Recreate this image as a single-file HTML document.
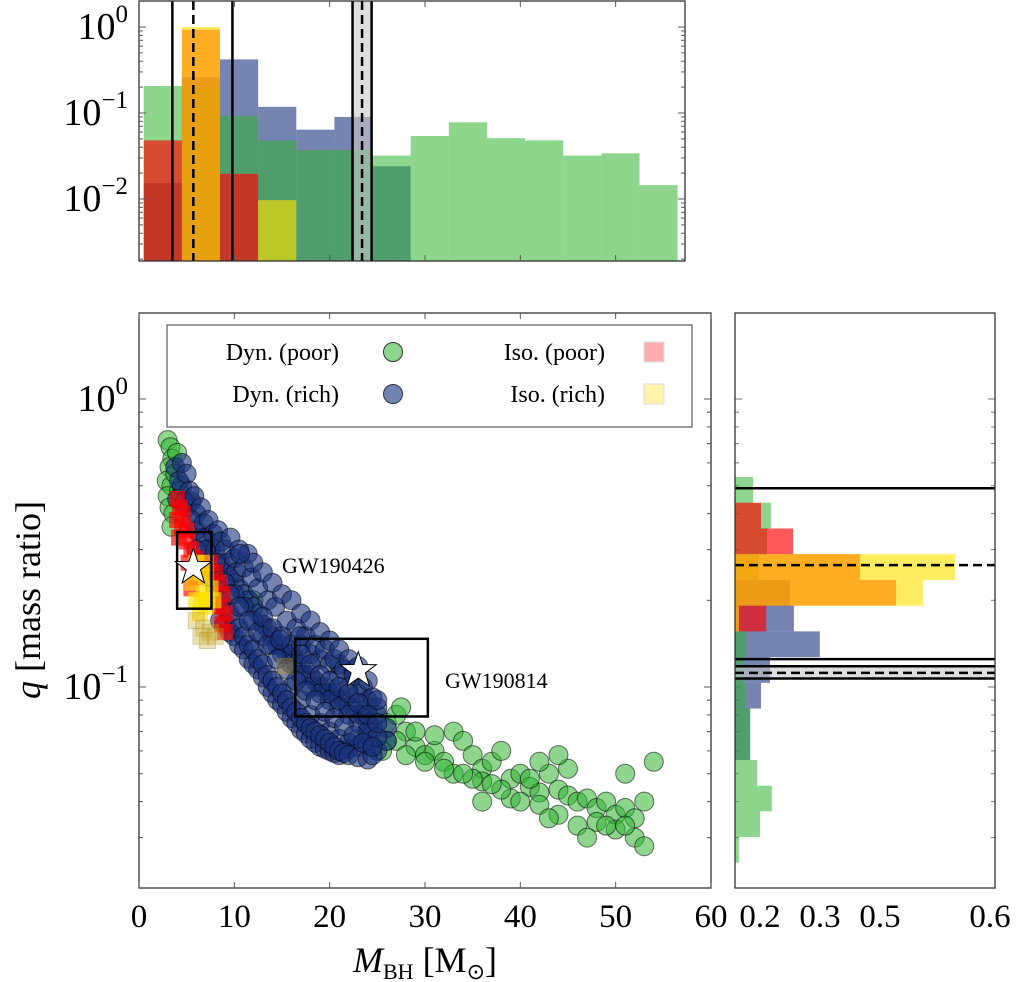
<!DOCTYPE html>
<html><head><meta charset="utf-8"><style>
html,body{margin:0;padding:0;background:#fff;}
svg{display:block;font-family:"Liberation Serif",serif;}
</style></head><body>
<svg id="chart" width="1020" height="982" viewBox="0 0 1020 982" xmlns="http://www.w3.org/2000/svg">
<defs>
<clipPath id="clipTop"><rect x="139" y="1" width="546" height="260"/></clipPath>
<clipPath id="clipMain"><rect x="139" y="313" width="572" height="575"/></clipPath>
<clipPath id="clipRight"><rect x="735" y="313" width="260" height="575"/></clipPath>
</defs>
<g id="top"></g>
<g id="main"></g>
<g id="right"></g>
</svg>
<script>
// ---------- data ----------
const topBinStart = 0.5, topBinWidth = 4.0;
const topBlue   = [0.0154,0.26,0.42,0.118,0.064,0.09,0.024,0,0,0,0,0,0,0];
const topGreen  = [0.206,0.2,0.092,0.048,0.037,0.037,0.032,0.054,0.078,0.051,0.048,0.032,0.034,0.0145];
const topRed    = [0.048,0.93,0.0196,0,0,0,0,0,0,0,0,0,0,0];
const topYellow = [0,1.0,0,0.0097,0,0,0,0,0,0,0,0,0,0];
const topVLinesSolid = [3.5,9.8,22.4,24.4];
const topVLinesDashed = [5.7,23.4];

const rightBinTopLog = -0.271, rightBinWidthLog = 0.0893;
const rightGreen  = [0.042,0.083,0.074,0.055,0,0,0.025,0.021,0.023,0.035,0.035,0.051,0.085,0.058,0.009];
const rightBlue   = [0,0,0,0,0.127,0.136,0.196,0.081,0.06,0.035,0.035,0,0,0,0];
const rightRed    = [0,0.06,0.134,0.289,0.372,0.072,0,0,0,0,0,0,0,0,0];
const rightYellow = [0,0,0,0.508,0.434,0.009,0,0,0,0,0,0,0,0,0];
const rightHLinesSolid = [0.49,0.125,0.118,0.107];
const rightHLinesDashed = [0.265,0.112];

const greenM = [3,3.3,3.5,3.2,2.9,3.4,3,3.2,3.6,3.4,4,3.8,4.2,12,16,20,24,
 26,27,28,27,29,30,31,32,33,34,35,33,36,37,38,36,39,40,41,42,43,44,45,46,47,48,49,50,51,52,53,52,50,48,53,54,51,45,44,42,41,39,38,37,35,34,32,30,28,26,25.5,46,44,42,40,43,47,49,51,36,29,31,27.5];
const greenQ = [0.72,0.68,0.62,0.58,0.52,0.5,0.46,0.42,0.4,0.36,0.65,0.55,0.48,0.2,0.13,0.095,0.085,
 0.075,0.08,0.07,0.065,0.062,0.058,0.06,0.055,0.07,0.065,0.058,0.05,0.052,0.055,0.06,0.047,0.048,0.05,0.045,0.043,0.05,0.044,0.042,0.04,0.041,0.038,0.04,0.036,0.038,0.035,0.04,0.03,0.032,0.034,0.028,0.055,0.05,0.052,0.058,0.055,0.048,0.041,0.044,0.046,0.048,0.05,0.052,0.055,0.058,0.065,0.06,0.033,0.036,0.039,0.04,0.035,0.03,0.033,0.033,0.04,0.07,0.068,0.085];

const blueM = [3.8,4.2,4.5,5,5.3,4.8,5.8,6,6.5,5.5,6.8,7,7.3,7.8,8,8.3,8.6,9,9.3,9.6,10,10.5,10.2,11,11.4,11.8,12,12.5,13,13.5,14,14.3,15,15.5,16,16.5,17,17.5,18,18.5,19,19.5,20,20.5,21,21.5,22,22.5,23,23.5,24,24.5,25,
 6,6.5,7,7.5,8,8.5,9,9.5,10,10.5,11,11.5,12,12.5,13,13.5,14,14.5,15,15.5,16,16.5,17,17.5,18,18.5,19,19.5,20,20.5,21,21.5,22,23,24,24.5,
 7,8,9,10,11,12,13,14,15,16,17,18,19,20,21,22,23,24,25,
 9.5,10.5,11.5,12.5,13.5,14.5,15.5,16.5,17.5,18.5,19.5,20.5,21.5,22.5,23.5,24.5,
 13,14,15,16,17,18,19,20,21,22,23,24,25,14.8,16.9,10.6];
const blueQ = [0.58,0.52,0.6,0.55,0.48,0.44,0.46,0.4,0.42,0.38,0.37,0.33,0.38,0.34,0.3,0.35,0.32,0.3,0.27,0.33,0.28,0.3,0.25,0.26,0.29,0.24,0.27,0.22,0.25,0.2,0.23,0.19,0.21,0.17,0.2,0.16,0.18,0.15,0.17,0.14,0.155,0.135,0.145,0.125,0.135,0.115,0.125,0.11,0.118,0.1,0.105,0.092,0.09,
 0.3,0.27,0.26,0.24,0.22,0.2,0.19,0.18,0.17,0.16,0.15,0.14,0.135,0.125,0.12,0.11,0.105,0.1,0.095,0.09,0.085,0.082,0.078,0.075,0.072,0.07,0.068,0.066,0.064,0.062,0.06,0.059,0.058,0.057,0.056,0.058,
 0.3,0.27,0.23,0.21,0.19,0.17,0.15,0.14,0.13,0.12,0.11,0.1,0.095,0.09,0.085,0.08,0.075,0.07,0.067,
 0.21,0.19,0.17,0.155,0.14,0.125,0.115,0.105,0.097,0.09,0.082,0.078,0.073,0.068,0.064,0.062,
 0.175,0.16,0.15,0.14,0.13,0.12,0.11,0.105,0.1,0.095,0.088,0.08,0.075,0.146,0.15,0.29];
const blueM2 = [4,4.5,5,5.5,6,6.5,7,7.5,8,8.5,9,9.5,10,10.5,11,11.5,12,12.5,13,13.5,14,14.5,15,15.5,16,16.5,17,17.5,18,18.5,19,19.5,20,20.5,21,21.5,22,22.5,23,23.5,24,24.5,25,
 8.5,9,9.5,10,10.5,11,11.5,12,12.5,13,13.5,14,14.5,15,15.5,16,16.5,17,17.5,18,18.5,19,19.5,20,20.5,21,22,23,24,25,
 16,17,18,19,20,21,22,23,24,18,19,20,21,22,23,24,25,17,21,22.5,26,26];
const blueQ2 = [0.45,0.5,0.42,0.44,0.35,0.33,0.28,0.3,0.25,0.27,0.25,0.24,0.23,0.22,0.21,0.2,0.19,0.18,0.165,0.16,0.15,0.14,0.14,0.13,0.13,0.12,0.12,0.11,0.11,0.105,0.1,0.1,0.095,0.095,0.09,0.09,0.085,0.085,0.08,0.08,0.075,0.072,0.08,
 0.17,0.165,0.155,0.15,0.14,0.135,0.125,0.12,0.115,0.108,0.1,0.095,0.09,0.087,0.082,0.078,0.075,0.071,0.069,0.066,0.064,0.062,0.061,0.06,0.059,0.058,0.061,0.062,0.063,0.06,
 0.1,0.09,0.08,0.075,0.07,0.066,0.064,0.066,0.068,0.13,0.125,0.12,0.11,0.1,0.095,0.09,0.085,0.14,0.12,0.115,0.072,0.065];

const redM = [4,4.3,4.6,4,4.5,5,4.2,5,5.5,6,5.2,6.5,7.5,8,8.5,8.8,8.5,9,8.7,9,6,5.5];
const redQ = [0.45,0.42,0.4,0.38,0.36,0.35,0.33,0.32,0.3,0.28,0.27,0.26,0.27,0.25,0.23,0.21,0.19,0.18,0.165,0.155,0.24,0.22];
const yellowM = [6,6.5,7,7,7.5,6.8,7.2,7.8,7,6.5,6,5.6,6.4];
const yellowQ = [0.27,0.25,0.27,0.24,0.22,0.21,0.2,0.2,0.19,0.2,0.2,0.23,0.18];
const faintM = [6,6.8,7.5,8,6.5,7.2,15.3];
const faintQ = [0.17,0.16,0.155,0.15,0.15,0.145,0.118];

const events = ["GW190426","GW190814"];
const eventM = [5.7,23.0], eventQ = [0.26,0.114];
const eventMlo = [4.0,16.4], eventMhi = [7.6,30.3];
const eventQlo = [0.187,0.079], eventQhi = [0.345,0.147];

const xTicks = [0,10,20,30,40,50,60];
const rightTickLabels = ["0.2","0.3","0.5","0.6"];

// ---------- scales ----------
const NS="http://www.w3.org/2000/svg";
const mx = M => 139 + M*9.533;
const my = q => 399 - 288*Math.log10(q);
const ty = v => Math.min(261, 27 - 86*Math.log10(v));
const rx = v => 735 + v*433;
const ry = lg => 399 - 288*lg;

function mk(tag, attrs, parent){
  const e=document.createElementNS(NS,tag);
  for(const k in attrs) e.setAttribute(k,attrs[k]);
  parent.appendChild(e); return e;
}
const gTop=document.getElementById('top'), gMain=document.getElementById('main'), gRight=document.getElementById('right');
const C = {
  green:"rgba(50,180,50,0.55)", blue:"rgba(25,50,125,0.6)",
  red:"rgba(255,0,0,0.65)", yellow:"rgba(255,225,0,0.62)"
};

// ---------- top histogram ----------
const topBars = mk('g',{'clip-path':'url(#clipTop)'},gTop);
[[topBlue,'blue'],[topGreen,'green'],[topRed,'red'],[topYellow,'yellow']].forEach(([arr,col])=>{
  arr.forEach((v,i)=>{
    if(!v) return;
    const x0=mx(topBinStart+i*topBinWidth), x1=mx(topBinStart+(i+1)*topBinWidth);
    const r=mk('rect',{x:x0,y:ty(v),width:x1-x0,height:261-ty(v),fill:C[col]},topBars);
    
    
  });
});
mk('rect',{x:mx(22.4),y:1,width:mx(24.4)-mx(22.4),height:260,fill:"rgba(200,200,200,0.6)"},gTop);
topVLinesSolid.forEach(v=>{ const l=mk('line',{x1:mx(v),x2:mx(v),y1:1,y2:261,stroke:'#000','stroke-width':2.5},gTop);
   });
topVLinesDashed.forEach(v=>{ const l=mk('line',{x1:mx(v),x2:mx(v),y1:1,y2:261,stroke:'#000','stroke-width':2.5,'stroke-dasharray':'9,5'},gTop);
   });
const topFrame=mk('rect',{x:139,y:1,width:546,height:260,fill:'none',stroke:'#333','stroke-width':1.3},gTop);
 
[10,20,30,40,50].forEach(t=>{ mk('line',{x1:mx(t),x2:mx(t),y1:261,y2:255,stroke:'#555'},gTop); mk('line',{x1:mx(t),x2:mx(t),y1:1,y2:7,stroke:'#555'},gTop);});
for(let d=-3; d<=0; d++) for(let k=1;k<10;k++){
  const y=ty(k*Math.pow(10,d)); if(y<2||y>=261) continue;
  const len=k===1?7:4;
  mk('line',{x1:139,x2:139+len,y1:y,y2:y,stroke:'#555'},gTop);
  mk('line',{x1:685,x2:685-len,y1:y,y2:y,stroke:'#555'},gTop);
}
function logLabel(parent,x,y,exp,name){
  const t=mk('text',{x:x,y:y,'text-anchor':'end','font-size':38,fill:'#000'},parent);
   
  t.appendChild(document.createTextNode('10'));
  const s=mk('tspan',{'font-size':25,dy:-17},t); s.textContent=exp;
}
logLabel(gTop,128,39,'0','top-y-tick-1');
logLabel(gTop,128,125,'−1','top-y-tick-0.1');
logLabel(gTop,128,211,'−2','top-y-tick-0.01');

// ---------- main scatter ----------
const pts = mk('g',{'clip-path':'url(#clipMain)'},gMain);
greenM.forEach((M,i)=>{ const c=mk('circle',{cx:mx(M),cy:my(greenQ[i]),r:9.5,fill:C.green,stroke:'rgba(0,0,0,0.55)','stroke-width':1},pts);
   });
blueM2.forEach((M,i)=>{ const c=mk('circle',{cx:mx(M),cy:my(blueQ2[i]),r:9.5,fill:C.blue,stroke:'rgba(0,0,0,0.55)','stroke-width':1},pts);
   });
blueM.forEach((M,i)=>{ const c=mk('circle',{cx:mx(M),cy:my(blueQ[i]),r:9.5,fill:C.blue,stroke:'rgba(0,0,0,0.55)','stroke-width':1},pts);
   });
redM.forEach((M,i)=>{ const s=mk('rect',{x:mx(M)-8,y:my(redQ[i])-8,width:16,height:16,fill:C.red},pts);
   });
yellowM.forEach((M,i)=>{ const s=mk('rect',{x:mx(M)-8,y:my(yellowQ[i])-8,width:16,height:16,fill:C.yellow},pts);
   });
faintM.forEach((M,i)=>{ const s=mk('rect',{x:mx(M)-8,y:my(faintQ[i])-8,width:16,height:16,fill:'rgba(200,170,40,0.35)',stroke:'rgba(150,130,40,0.3)'},pts);
   });
function starPath(cx,cy,R,r){let d='';for(let i=0;i<10;i++){const a=-Math.PI/2+i*Math.PI/5;const rr=i%2?r:R;d+=(i?'L':'M')+(cx+rr*Math.cos(a)).toFixed(1)+','+(cy+rr*Math.sin(a)).toFixed(1);}return d+'Z';}
events.forEach((ev,i)=>{
  const b=mk('rect',{x:mx(eventMlo[i]),y:my(eventQhi[i]),width:mx(eventMhi[i])-mx(eventMlo[i]),height:my(eventQlo[i])-my(eventQhi[i]),fill:'none',stroke:'#000','stroke-width':2.5},gMain);
   
  const s=mk('path',{d:starPath(mx(eventM[i]),my(eventQ[i]),19,7.5),fill:'#fff',stroke:'#000','stroke-width':1},gMain);
   
});
const l1=mk('text',{x:282,y:573,'font-size':22},gMain); l1.textContent='GW190426';
 
const l2=mk('text',{x:445,y:688,'font-size':22},gMain); l2.textContent='GW190814';
 

// legend
const lg=mk('g',{},gMain);  
mk('rect',{x:167,y:325,width:525,height:102,fill:'#fff',stroke:'#666','stroke-width':1.3},lg);
[["Dyn. (poor)",339,360,'circle',"rgb(142,214,142)",393,352],
 ["Dyn. (rich)",339,402,'circle',"rgb(112,132,177)",393,394],
 ["Iso. (poor)",605,360,'rect',"rgb(255,175,175)",654,352],
 ["Iso. (rich)",605,402,'rect',"rgb(255,245,170)",654,394]].forEach(e=>{
  const t=mk('text',{x:e[1],y:e[2],'text-anchor':'end','font-size':24},lg); t.textContent=e[0];
   
  if(e[3]==='circle') mk('circle',{cx:e[5],cy:e[6],r:9.5,fill:e[4],stroke:'#333','stroke-width':1},lg);
  else mk('rect',{x:e[5]-10,y:e[6]-10,width:20,height:20,fill:e[4],stroke:'#ddd'},lg);
});
const mainFrame=mk('rect',{x:139,y:313,width:572,height:575,fill:'none',stroke:'#333','stroke-width':1.3},gMain);
 
xTicks.forEach(t=>{
  mk('line',{x1:mx(t),x2:mx(t),y1:888,y2:882,stroke:'#555'},gMain);
  mk('line',{x1:mx(t),x2:mx(t),y1:313,y2:319,stroke:'#555'},gMain);
  const tx=mk('text',{x:mx(t),y:927,'text-anchor':'middle','font-size':33},gMain); tx.textContent=t;
   
});
for(let d=-2; d<=0; d++) for(let k=1;k<10;k++){
  const y=my(k*Math.pow(10,d)); if(y<314||y>887) continue;
  const len=k===1?7:4;
  mk('line',{x1:139,x2:139+len,y1:y,y2:y,stroke:'#555'},gMain);
  mk('line',{x1:711,x2:711-len,y1:y,y2:y,stroke:'#555'},gMain);
  mk('line',{x1:735,x2:735+len,y1:y,y2:y,stroke:'#777'},gRight);
  mk('line',{x1:995,x2:995-len,y1:y,y2:y,stroke:'#777'},gRight);
}
logLabel(gMain,128,411,'0','y-tick-1');
logLabel(gMain,128,699,'−1','y-tick-0.1');
const xl=mk('text',{x:425,y:972,'text-anchor':'middle','font-size':36},gMain);
 
xl.innerHTML='<tspan font-style="italic">M</tspan><tspan font-size="22" dy="7">BH</tspan><tspan dy="-7"> [M</tspan><tspan font-size="22" dy="7">⊙</tspan><tspan dy="-7">]</tspan>';
const yl=mk('text',{x:0,y:0,'text-anchor':'middle','font-size':36,transform:'translate(40,600) rotate(-90)'},gMain);
 
yl.innerHTML='<tspan font-style="italic">q</tspan> [mass ratio]';

// ---------- right histogram ----------
const rb=mk('g',{'clip-path':'url(#clipRight)'},gRight);
[[rightBlue,'blue'],[rightGreen,'green'],[rightRed,'red'],[rightYellow,'yellow']].forEach(([arr,col])=>{
  arr.forEach((v,i)=>{
    if(!v) return;
    const y0=ry(rightBinTopLog - i*rightBinWidthLog), y1=ry(rightBinTopLog-(i+1)*rightBinWidthLog);
    const r=mk('rect',{x:735,y:y0,width:rx(v)-735,height:y1-y0,fill:C[col]},rb);
    
    
  });
});
mk('rect',{x:735,y:my(0.118),width:260,height:my(0.107)-my(0.118),fill:"rgba(200,200,200,0.6)"},gRight);
rightHLinesSolid.forEach(v=>{ const l=mk('line',{x1:735,x2:995,y1:my(v),y2:my(v),stroke:'#000','stroke-width':2.5},gRight);
   });
rightHLinesDashed.forEach(v=>{ const l=mk('line',{x1:735,x2:995,y1:my(v),y2:my(v),stroke:'#000','stroke-width':2.5,'stroke-dasharray':'9,5'},gRight);
   });
const rf=mk('rect',{x:735,y:313,width:260,height:575,fill:'none',stroke:'#333','stroke-width':1.3},gRight);
 
const rtx=[760,820,880,990];
rightTickLabels.forEach((s,i)=>{
  const t=mk('text',{x:rtx[i],y:927,'text-anchor':'middle','font-size':33},gRight); t.textContent=s;
   
});
</script>
</body></html>
